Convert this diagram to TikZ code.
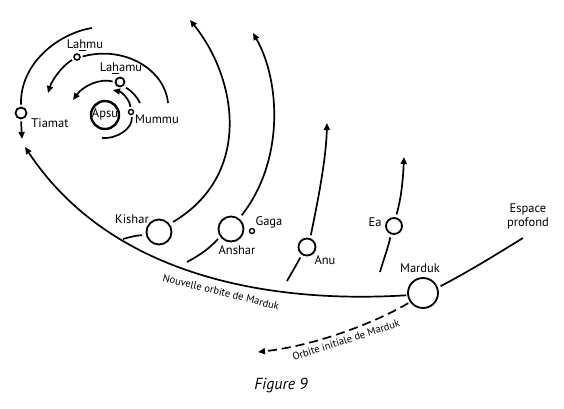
\documentclass[tikz,border=0pt]{standalone}
\usepackage{fontspec}
\setmainfont{PT Sans}
\usetikzlibrary{arrows.meta}
\begin{document}
\begin{tikzpicture}[x=1pt,y=-1pt,
  planet/.style={circle,draw,line width=1.8pt,inner sep=0pt,minimum size=#1},
  orb/.style={line width=1.7pt},
  arr/.style={orb,-{Triangle[length=7pt,width=6pt]}},
  lbl/.style={font=\fontsize{12.5}{14}\selectfont,inner sep=0pt},
  orbtext/.style={font=\fontsize{10.5}{12}\selectfont,inner sep=0pt}]
\useasboundingbox (0,0) rectangle (564,408);
% planets
\node[planet=11pt] (tiamat) at (21,113) {};
\node[planet=6pt,line width=1.5pt] (lahmu) at (77,57) {};
\node[planet=9pt] (lahamu) at (120,82) {};
\node[planet=28pt,line width=2.4pt] (apsu) at (105,115) {};
\node[planet=5pt,line width=1.4pt] (mummu) at (131,112) {};
\node[planet=25pt] (kishar) at (159,232) {};
\node[planet=25pt] (anshar) at (231,229) {};
\node[planet=5pt,line width=1.4pt] (gaga) at (252,231) {};
\node[planet=17pt] (anu) at (307,247) {};
\node[planet=16pt] (ea) at (394,226) {};
\node[planet=30pt] (marduk) at (423,293) {};
% labels
\node[lbl] (apsuL) at (105,114) {Apsu};
\node[lbl] (tiamatL) at (50,123) {Tiamat};
\node[lbl] (lahmuL) at (85,45) {La\underline{h}mu};
\node[lbl] (lahamuL) at (121,68) {La\underline{h}amu};
\node[lbl] (mummuL) at (157,119) {Mummu};
\node[lbl] (kisharL) at (132,219) {Kishar};
\node[lbl] (ansharL) at (237,250) {Anshar};
\node[lbl] (gagaL) at (269,222) {Gaga};
\node[lbl] (anuL) at (325,260) {Anu};
\node[lbl] (eaL) at (375,222) {Ea};
\node[lbl] (mardukL) at (420,268) {Marduk};
\node[lbl,align=center] (espace) at (528,216) {Espace\\profond};
\node[orbtext,rotate=-14] (nouv) at (221,292) {Nouvelle orbite de Marduk};
\node[orbtext,rotate=18] (init) at (346,340) {Orbite initiale de Marduk};
\node[font=\itshape\fontsize{16}{18}\selectfont] (fig) at (281,385) {Figure 9};
% free ends
\coordinate (nt) at (25,147);
\coordinate (ep) at (523,238);
\coordinate (it) at (258,352);
\coordinate (eat) at (404,157);
\coordinate (eb) at (380,272);
\coordinate (ant) at (327,123);
\coordinate (anb) at (287,281);
\coordinate (ast) at (253,33);
\coordinate (asb) at (187,262);
\coordinate (kt) at (190,20);
\coordinate (kb) at (123,239);
\coordinate (oa) at (92,28);
\coordinate (tt) at (22,139);
\coordinate (la) at (168,103);
\coordinate (lt) at (48,93);
\coordinate (lat) at (73,100);
\coordinate (lr) at (140,103);
\coordinate (mt) at (113,90);
\coordinate (mb) at (102,138);
% orbits
\draw[arr,shorten <=1pt] (marduk.188) .. controls (300,302) and (120,290) .. (nt);
\draw[orb,shorten <=3pt] (marduk.20) .. controls (475,268) and (500,252) .. (ep);
\draw[arr,dash pattern=on 9pt off 5pt,shorten <=2pt] (marduk.215) .. controls (380,320) and (320,345) .. (it);
\draw[arr,shorten <=3pt] (ea.80) .. controls (401,200) and (403,180) .. (eat);
\draw[orb,shorten >=3pt] (eb) .. controls (384,258) and (388,248) .. (ea.250);
\draw[arr,shorten <=3pt] (anu.70) .. controls (318,200) and (326,160) .. (ant);
\draw[orb,shorten >=3pt] (anb) .. controls (292,272) and (297,264) .. (anu.235);
\draw[arr,shorten <=4pt] (anshar.52) .. controls (285,160) and (280,80) .. (ast);
\draw[orb,shorten >=3pt] (asb) .. controls (198,256) and (208,250) .. (anshar.215);
\draw[arr,shorten <=4pt] (kishar.37) .. controls (252,175) and (238,80) .. (kt);
\draw[orb,shorten >=4pt] (kb) .. controls (130,237) and (138,235) .. (kishar.195);
\draw[orb,shorten >=2pt] (oa) .. controls (60,33) and (20,62) .. (tiamat.north);
\draw[arr,shorten <=2pt] (tiamat.south) -- (tt);
\draw[orb,shorten <=2pt] (lahmu.east) .. controls (125,45) and (165,70) .. (la);
\draw[arr,shorten <=2pt] (lahmu.210) .. controls (62,66) and (52,80) .. (lt);
\draw[arr,shorten <=2pt] (lahamu.west) .. controls (100,78) and (83,86) .. (lat);
\draw[orb,shorten <=3pt] (lahamu.-50) .. controls (133,92) and (137,97) .. (lr);
\draw[arr,shorten <=2pt] (mummu.100) .. controls (130,100) and (122,92) .. (mt);
\draw[orb,shorten <=2pt] (mummu.-80) .. controls (133,128) and (118,139) .. (mb);
\end{tikzpicture}
\end{document}
